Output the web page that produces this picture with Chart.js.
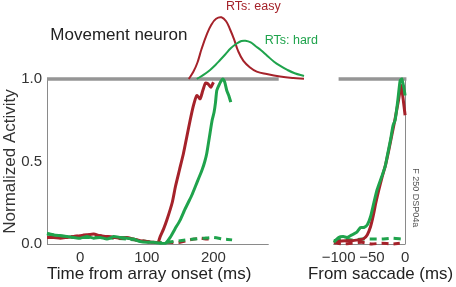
<!DOCTYPE html>
<html>
<head>
<meta charset="utf-8">
<script src="https://cdn.jsdelivr.net/npm/chart.js@4"></script>
<style>
body{margin:0;background:#fff;}
#wrap{position:relative;width:456px;height:287px;}
canvas{position:absolute;top:0;}
</style>
</head>
<body>
<div id="wrap">
<canvas id="onset" width="330" height="287" style="left:0"></canvas>
<canvas id="saccade" width="156" height="287" style="left:300px"></canvas>
</div>
<script>
// --- aligned on array onset (ms) ---
let easyT = [-50,-40,-30,-20,-10,0,10,20,30,40,50,60,70,80,90,100,110,117,120,125,130,138,143,149,155,160,165,170,175,180,184,188,192,196,200];
let easyV = [0.04,0.04,0.035,0.04,0.045,0.05,0.055,0.06,0.05,0.045,0.04,0.035,0.04,0.03,0.02,0.015,0.01,0.012,0.045,0.09,0.145,0.25,0.35,0.45,0.55,0.65,0.75,0.84,0.9,0.88,0.93,0.975,0.97,0.95,0.98];

let hardT = [-50,-40,-30,-20,-10,0,10,20,30,40,50,60,70,80,90,100,110,120,128,135,142,150,156,162,168,173,178,183,187,190,194,198,201,203,205,208,211,214,217,220,223,226];
let hardV = [0.065,0.055,0.05,0.045,0.04,0.035,0.045,0.035,0.04,0.03,0.045,0.04,0.035,0.03,0.015,0.01,0.01,0.005,0.005,0.04,0.09,0.145,0.2,0.25,0.3,0.35,0.4,0.45,0.5,0.55,0.65,0.75,0.8,0.855,0.93,0.96,0.985,1.0,0.98,0.93,0.9,0.86];

let easyDashT = [-50,-30,-10,10,30,50,70,90,110,130,150,165,180,190,200];
let easyDashV = [0.04,0.04,0.045,0.055,0.05,0.04,0.035,0.02,0.01,0.01,0.01,0.025,0.035,0.03,0.03];

let hardDashT = [-50,-30,-10,10,30,50,70,90,110,130,150,170,185,200,215,228];
let hardDashV = [0.06,0.05,0.04,0.04,0.04,0.035,0.03,0.02,0.01,0.01,0.02,0.03,0.035,0.04,0.03,0.025];

// reaction time distributions, drawn on top of the 1.0 line
let rtEasyT = [163,170,176,182,190,197,204,212,219,225,231,237,245,255,265,280,300,320,336];
let rtEasyV = [1.0,1.045,1.1,1.18,1.27,1.33,1.365,1.374,1.35,1.3,1.24,1.17,1.11,1.07,1.045,1.03,1.015,1.006,1.002];
let rtHardT = [175,185,195,203,210,218,226,235,242,248,256,263,271,281,291,301,311,322,336];
let rtHardV = [1.0,1.025,1.055,1.085,1.115,1.15,1.186,1.215,1.23,1.232,1.222,1.2,1.176,1.14,1.105,1.078,1.055,1.035,1.018];

let barOnsetT = [-50,298];
let barV = [1,1];

let onsetTicks = [0,100,200];
let yTicks = [0,0.5,1];

// --- aligned on saccade (ms) ---
let sEasyT = [-107,-100,-90,-80,-70,-63,-57,-52,-48,-44,-40,-35,-30,-25,-20,-15,-10,-6,-3,0];
let sEasyV = [0.005,0.015,0.02,0.02,0.025,0.03,0.055,0.105,0.17,0.25,0.32,0.4,0.47,0.56,0.66,0.76,0.87,0.96,0.88,0.78];
let sHardT = [-107,-100,-93,-87,-80,-73,-67,-62,-57,-52,-47,-42,-35,-30,-27,-22,-18,-15,-11,-7.5,-5,-2,0];
let sHardV = [0.01,0.04,0.045,0.04,0.055,0.07,0.1,0.1,0.115,0.165,0.25,0.33,0.41,0.47,0.53,0.63,0.72,0.75,0.87,0.99,1.0,0.95,0.9];
let sEasyDashT = [-107,-95,-80,-65,-50,-35,-20,-8];
let sEasyDashV = [0.01,0.0,0.005,0.01,0.0,0.005,0.0,0.005];
let sHardDashT = [-107,-95,-80,-65,-50,-35,-20,-5];
let sHardDashV = [0.02,0.03,0.025,0.03,0.03,0.03,0.035,0.03];
let barSaccT = [-100,2];
let saccTicks = [-100,-50,0];

const RED = "#a5222a";
const GREEN = "#1fa34c";
const BAR = "#959595";
const AXIS = "#8a8a8a";
const F = "'Liberation Sans', Arial, sans-serif";

Chart.defaults.font.family = F;
Chart.defaults.color = "#333";

function pts(ts, vs){
  return ts.map((t,i) => ({x:t, y:vs[i]}));
}

function line(ts, vs, color, width, dash){
  return {
    data: pts(ts, vs),
    borderColor: color,
    borderWidth: width,
    borderDash: dash || [],
    pointRadius: 0,
    tension: 0.2,
    clip: false
  };
}

// x axis line (and optional vertical line) drawn through the scales
const axisLines = {
  id: "axisLines",
  beforeDatasetsDraw(chart, args, opts){
    const {ctx, scales:{x, y}} = chart;
    const y0 = Math.round(y.getPixelForValue(0)) + 0.5;
    ctx.save();
    ctx.strokeStyle = AXIS;
    ctx.lineWidth = 1;
    ctx.beginPath();
    ctx.moveTo(x.getPixelForValue(opts.from), y0);
    ctx.lineTo(x.getPixelForValue(opts.to), y0);
    if (opts.vAt !== undefined){
      const xv = Math.round(x.getPixelForValue(opts.vAt)) + 0.5;
      ctx.moveTo(xv, y0);
      ctx.lineTo(xv, y.getPixelForValue(1));
    }
    ctx.stroke();
    ctx.restore();
  }
};

// free text labels placed in data units
const notes = {
  id: "notes",
  afterDraw(chart, args, opts){
    const {ctx, scales:{x, y}} = chart;
    (opts.items || []).forEach(n => {
      ctx.save();
      ctx.font = n.font;
      ctx.fillStyle = n.color;
      ctx.textAlign = n.align || "left";
      ctx.textBaseline = "middle";
      ctx.translate(x.getPixelForValue(n.x), y.getPixelForValue(n.y));
      if (n.rotate) ctx.rotate(n.rotate);
      ctx.fillText(n.text, 0, 0);
      ctx.restore();
    });
  }
};

new Chart(document.getElementById("onset"), {
  type: "line",
  data: {
    datasets: [
      line(hardT, hardV, GREEN, 3),
      line(easyT, easyV, RED, 3),
      line(hardDashT, hardDashV, GREEN, 3, [7,5]),
      line(easyDashT, easyDashV, RED, 3, [7,5]),
      Object.assign(line(rtHardT, rtHardV, GREEN, 2), {tension: 0.4}),
      Object.assign(line(rtEasyT, rtEasyV, RED, 2), {tension: 0.4}),
      line(barOnsetT, barV, BAR, 3.5)
    ]
  },
  options: {
    responsive: false,
    animation: false,
    events: [],
    layout: {padding: {top: 79, right: 26, left: 0, bottom: 0}},
    plugins: {
      legend: {display: false},
      tooltip: {enabled: false},
      axisLines: {from: -50, to: 283},
      notes: {items: [
        {text: "Movement neuron", x: -45, y: 1.267, color: "#222", font: "17px " + F},
        {text: "RTs: easy", x: 260, y: 1.44, color: RED, font: "12.5px " + F, align: "center"},
        {text: "RTs: hard", x: 277, y: 1.236, color: GREEN, font: "12.5px " + F}
      ]}
    },
    scales: {
      x: {
        type: "linear",
        min: -50,
        max: 336,
        grid: {display: false, drawTicks: false},
        border: {display: false},
        afterBuildTicks: s => { s.ticks = onsetTicks.map(v => ({value: v})); },
        afterFit: s => { s.height = 43; },
        ticks: {font: {size: 15}, color: "#333", padding: 5, maxRotation: 0},
        title: {display: true, text: "Time from array onset (ms)", align: "start",
                font: {size: 17}, color: "#222", padding: {top: 0, bottom: 2}}
      },
      y: {
        min: 0,
        max: 1,
        grid: {display: false, drawTicks: false},
        border: {display: true, color: AXIS, width: 1},
        afterBuildTicks: s => { s.ticks = yTicks.map(v => ({value: v})); },
        afterFit: s => { s.width = 47; },
        ticks: {font: {size: 15}, color: "#333", padding: 5, callback: v => v.toFixed(1)},
        title: {display: true, text: "Normalized Activity", font: {size: 17},
                color: "#333", padding: {top: 0, bottom: 0}}
      }
    }
  },
  plugins: [axisLines, notes]
});

new Chart(document.getElementById("saccade"), {
  type: "line",
  data: {
    datasets: [
      line(sHardT, sHardV, GREEN, 3),
      line(sEasyT, sEasyV, RED, 3),
      line(sHardDashT, sHardDashV, GREEN, 3, [7,5]),
      line(sEasyDashT, sEasyDashV, RED, 3, [7,5]),
      line(barSaccT, barV, BAR, 3.5)
    ]
  },
  options: {
    responsive: false,
    animation: false,
    events: [],
    layout: {padding: {top: 79, left: 8, right: 3, bottom: 0}},
    plugins: {
      legend: {display: false},
      tooltip: {enabled: false},
      axisLines: {from: -108, to: 0, vAt: 0},
      notes: {items: [
        {text: "F 250 DSP04a", x: 15, y: 0.28, color: "#555", font: "9px " + F,
         align: "center", rotate: Math.PI / 2}
      ]}
    },
    scales: {
      x: {
        type: "linear",
        min: -146,
        max: 72,
        grid: {display: false, drawTicks: false},
        border: {display: false},
        afterBuildTicks: s => { s.ticks = saccTicks.map(v => ({value: v})); },
        afterFit: s => { s.height = 43; },
        ticks: {font: {size: 15}, color: "#333", padding: 5, maxRotation: 0,
                callback: v => (v < 0 ? "\u2212" + Math.abs(v) : String(v))},
        title: {display: true, text: "From saccade (ms)", font: {size: 17},
                color: "#222", padding: {top: 0, bottom: 2}}
      },
      y: {
        display: false,
        min: 0,
        max: 1
      }
    }
  },
  plugins: [axisLines, notes]
});
</script>
</body>
</html>
